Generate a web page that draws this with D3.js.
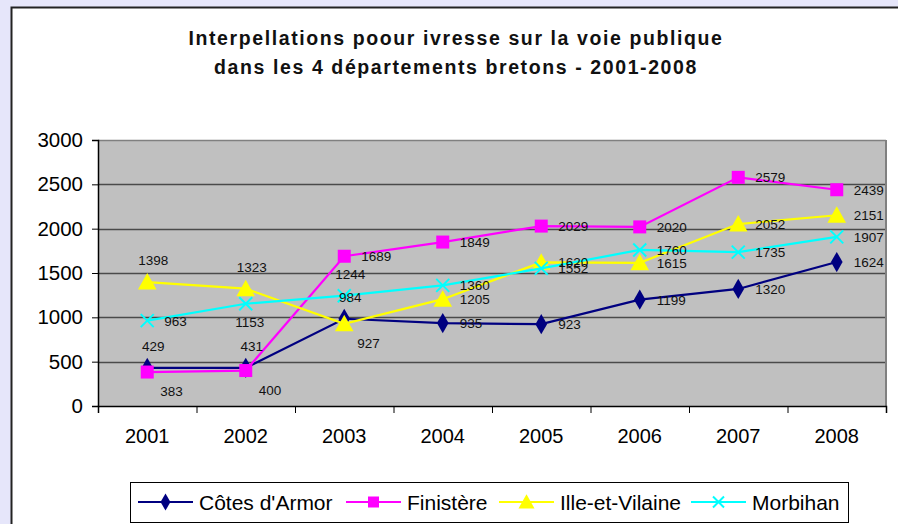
<!DOCTYPE html>
<html>
<head>
<meta charset="utf-8">
<script src="https://cdn.jsdelivr.net/npm/d3@7"></script>
<style>
  body { margin: 0; background: #e6e6fa; }
  svg { display: block; font-family: Arial, "Liberation Sans", sans-serif; }
</style>
</head>
<body>
<svg id="chart" width="898" height="524"></svg>
<script>
// data
const years     = ["2001", "2002", "2003", "2004", "2005", "2006", "2007", "2008"];
const yTicks    = [0, 500, 1000, 1500, 2000, 2500, 3000];
const cotes     = [429, 431, 984, 935, 923, 1199, 1320, 1624];
const finistere = [383, 400, 1689, 1849, 2029, 2020, 2579, 2439];
const ille      = [1398, 1323, 927, 1205, 1620, 1615, 2052, 2151];
const morbihan  = [963, 1153, 1244, 1360, 1552, 1760, 1735, 1907];
const seriesNames = ["Côtes d'Armor", "Finistère", "Ille-et-Vilaine", "Morbihan"];
const titleLines  = ["Interpellations poour ivresse sur la voie publique",
                     "dans les 4 départements bretons - 2001-2008"];

// where each value label sits (r = right, a = above, b = below, br = below right)
const labelPos = [
  ["a", "a", "a", "r", "r", "r", "r", "r"],
  ["br", "br", "r", "r", "r", "r", "r", "r"],
  ["a", "a", "br", "r", "r", "r", "r", "r"],
  ["r", "b", "a", "r", "r", "r", "r", "r"]
];

const svg    = d3.select("#chart"),
  plotLeft   = 98,
  plotRight  = 886,
  plotTop    = 140,
  plotBottom = 406,
  colors     = ["#000080", "#ff00ff", "#ffff00", "#00ffff"],
  shapes     = ["diamond", "square", "triangle", "cross"],
  seriesData = [cotes, finistere, ille, morbihan];

const x = d3.scaleBand().domain(years).range([plotLeft, plotRight]);
const y = d3.scaleLinear().domain([0, 3000]).range([plotBottom, plotTop]);
const cx = d => x(d) + x.bandwidth() / 2;

// white chart area with frame
svg.append("rect")
  .attr("x", 11).attr("y", 8).attr("width", 898 - 11).attr("height", 524 - 8)
  .attr("fill", "#fff");
svg.append("path")
  .attr("d", "M11.5,524 V7.5 H898")
  .attr("fill", "none").attr("stroke", "#222").attr("stroke-width", 2);

// title
svg.append("g").selectAll("text")
  .data(titleLines).enter().append("text")
  .attr("x", 456).attr("y", (d, i) => 45 + i * 29)
  .attr("text-anchor", "middle")
  .attr("font-weight", "bold").attr("font-size", 19.5)
  .attr("letter-spacing", 1.6)
  .attr("fill", "#111")
  .text(d => d);

// plot background
svg.append("rect")
  .attr("x", plotLeft).attr("y", plotTop).attr("width", plotRight - plotLeft).attr("height", plotBottom - plotTop)
  .attr("fill", "#c0c0c0");

// gridlines
svg.append("g").selectAll("line")
  .data(yTicks.filter(t => t > 0)).enter().append("line")
  .attr("x1", plotLeft).attr("x2", plotRight)
  .attr("y1", d => Math.round(y(d)) + 0.5).attr("y2", d => Math.round(y(d)) + 0.5)
  .attr("stroke", d => d === 3000 ? "#808080" : "#4a4a4a").attr("stroke-width", 1.5);

// right frame of plot
svg.append("line")
  .attr("x1", plotRight).attr("x2", plotRight).attr("y1", plotTop).attr("y2", plotBottom)
  .attr("stroke", "#808080").attr("stroke-width", 2);

// y axis
let yAxis = svg.append("g")
  .attr("transform", "translate(" + plotLeft + ",0)")
  .call(d3.axisLeft(y).tickValues(yTicks).tickSize(6).tickPadding(9).tickFormat(d3.format("d")));
yAxis.select(".domain").attr("stroke", "#000").attr("stroke-width", 1.5);
yAxis.selectAll("line").attr("stroke", "#000");
yAxis.selectAll("text").attr("font-size", 20.5).attr("fill", "#000").attr("font-family", "Arial, 'Liberation Sans', sans-serif");

// x axis: ticks on category boundaries, labels centred
let edges = d3.scaleLinear().domain([0, years.length]).range([plotLeft, plotRight]);
let xAxis = svg.append("g")
  .attr("transform", "translate(0," + plotBottom + ")")
  .call(d3.axisBottom(edges).tickValues(d3.range(years.length + 1)).tickSize(7).tickFormat(""));
xAxis.select(".domain").attr("stroke", "#000").attr("stroke-width", 1.5);
xAxis.selectAll("line").attr("stroke", "#000");

svg.append("g").selectAll("text")
  .data(years).enter().append("text")
  .attr("x", d => cx(d)).attr("y", 443)
  .attr("text-anchor", "middle").attr("font-size", 20)
  .attr("fill", "#000")
  .text(d => d);

// markers
function marker(sel, shape, color, s) {
  if (shape === "diamond") {
    sel.append("path").attr("d", d3.symbol(d3.symbolDiamond, s * s * 0.7)())
      .attr("fill", color);
  } else if (shape === "square") {
    sel.append("rect").attr("x", -s / 2).attr("y", -s / 2).attr("width", s).attr("height", s)
      .attr("fill", color);
  } else if (shape === "triangle") {
    sel.append("path").attr("d", "M0," + (-s * 0.6) + "L" + (s * 0.62) + "," + (s * 0.5) + "L" + (-s * 0.62) + "," + (s * 0.5) + "Z")
      .attr("fill", color);
  } else {
    let h = s / 2;
    sel.append("path").attr("d", "M" + -h + "," + -h + "L" + h + "," + h + "M" + -h + "," + h + "L" + h + "," + -h)
      .attr("stroke", color).attr("stroke-width", 2).attr("fill", "none");
  }
}

const line = d3.line().x((d, i) => cx(years[i])).y(d => y(d));
const offsets = {
  r:  { dx: 17, dy: 5, anchor: "start" },
  a:  { dx: 6, dy: -17, anchor: "middle" },
  b:  { dx: 4, dy: 23, anchor: "middle" },
  br: { dx: 13, dy: 24, anchor: "start" }
};

seriesData.forEach((vals, si) => {
  let g = svg.append("g");
  g.append("path")
    .attr("d", line(vals))
    .attr("fill", "none").attr("stroke", colors[si]).attr("stroke-width", 2.2);

  let pts = g.selectAll("g.pt").data(vals).enter().append("g")
    .attr("class", "pt")
    .attr("transform", (d, i) => "translate(" + cx(years[i]) + "," + y(d) + ")");
  marker(pts, shapes[si], colors[si], si === 2 ? 15 : 13);
});

// value labels on top
seriesData.forEach((vals, si) => {
  svg.append("g").selectAll("text")
    .data(vals).enter().append("text")
    .attr("x", (d, i) => cx(years[i]) + offsets[labelPos[si][i]].dx)
    .attr("y", (d, i) => y(d) + offsets[labelPos[si][i]].dy)
    .attr("text-anchor", (d, i) => offsets[labelPos[si][i]].anchor)
    .attr("font-size", 13.5).attr("fill", "#111")
    .text(d => d);
});

// legend
let lg = svg.append("g");
lg.append("rect")
  .attr("x", 130.5).attr("y", 482.5).attr("width", 718).attr("height", 40)
  .attr("fill", "#fff").attr("stroke", "#000").attr("stroke-width", 1);

const legendX = [138, 346, 499, 691];
seriesNames.forEach((name, si) => {
  let item = lg.append("g").attr("transform", "translate(" + legendX[si] + ",502)");
  item.append("line").attr("x1", 0).attr("x2", 55).attr("y1", 0).attr("y2", 0)
    .attr("stroke", colors[si]).attr("stroke-width", 2.2);
  let m = item.append("g").attr("transform", "translate(27.5,0)");
  marker(m, shapes[si], colors[si], si === 2 ? 13 : 11);
  item.append("text").attr("x", 61).attr("y", 7.5)
    .attr("font-size", 21).attr("fill", "#000")
    .text(name);
});
</script>
</body>
</html>
